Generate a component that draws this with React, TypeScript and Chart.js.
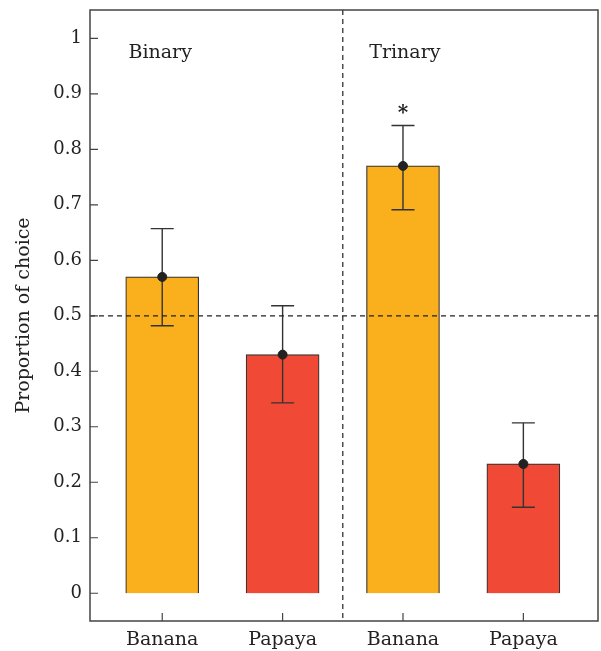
import React, { useEffect, useRef } from "react";
import { Chart, registerables } from "chart.js";

Chart.register(...registerables);

const categories = ["Banana", "Papaya", "Banana", "Papaya"];
const positions = [0, 1, 2, 3];
const proportions = [0.57, 0.43, 0.77, 0.233];
const errLow = [0.482, 0.343, 0.691, 0.155];
const errHigh = [0.657, 0.518, 0.843, 0.307];
const barColors = ["#FAAF1D", "#F04A36", "#FAAF1D", "#F04A36"];
const yTicks = [0, 0.1, 0.2, 0.3, 0.4, 0.5, 0.6, 0.7, 0.8, 0.9, 1];
const yTickLabels = ["0", "0.1", "0.2", "0.3", "0.4", "0.5", "0.6", "0.7", "0.8", "0.9", "1"];
const groupLabels = [
  { text: "Binary", x: -0.28 },
  { text: "Trinary", x: 1.72 },
];
const chanceLevel = 0.5;
const groupDivider = 1.5;
const significant = [false, false, true, false];

const FONT = "'DejaVu Serif', serif";
const INK = "#222";

const overlay = {
  id: "overlay",
  beforeDatasetDraw(chart: any, args: any) {
    if (args.index !== 1) return;
    const { ctx, chartArea } = chart;
    const xs = chart.scales.x;
    const ys = chart.scales.y;
    ctx.save();
    ctx.strokeStyle = "#333";
    ctx.lineWidth = 1.4;
    for (let i = 0; i < positions.length; i++) {
      const px = xs.getPixelForValue(positions[i]);
      const lo = ys.getPixelForValue(errLow[i]);
      const hi = ys.getPixelForValue(errHigh[i]);
      ctx.beginPath();
      ctx.moveTo(px, lo);
      ctx.lineTo(px, hi);
      ctx.moveTo(px - 11.5, lo);
      ctx.lineTo(px + 11.5, lo);
      ctx.moveTo(px - 11.5, hi);
      ctx.lineTo(px + 11.5, hi);
      ctx.stroke();
    }
    ctx.strokeStyle = INK;
    ctx.lineWidth = 1.2;
    ctx.setLineDash([5, 4]);
    const yc = ys.getPixelForValue(chanceLevel);
    ctx.beginPath();
    ctx.moveTo(chartArea.left, yc);
    ctx.lineTo(chartArea.right, yc);
    const xd = xs.getPixelForValue(groupDivider);
    ctx.moveTo(xd, chartArea.top);
    ctx.lineTo(xd, chartArea.bottom);
    ctx.stroke();
    ctx.restore();
  },
  afterDraw(chart: any) {
    const { ctx, chartArea } = chart;
    const xs = chart.scales.x;
    const ys = chart.scales.y;
    ctx.save();
    ctx.strokeStyle = "#444";
    ctx.lineWidth = 1.5;
    ctx.strokeRect(chartArea.left, chartArea.top, chartArea.right - chartArea.left, chartArea.bottom - chartArea.top);
    ctx.lineWidth = 1.2;
    ctx.beginPath();
    for (const v of yTicks) {
      const py = ys.getPixelForValue(v);
      ctx.moveTo(chartArea.left, py);
      ctx.lineTo(chartArea.left + 8, py);
    }
    for (const p of positions) {
      const px = xs.getPixelForValue(p);
      ctx.moveTo(px, chartArea.bottom);
      ctx.lineTo(px, chartArea.bottom - 8);
    }
    ctx.stroke();
    ctx.fillStyle = INK;
    ctx.font = `19px ${FONT}`;
    ctx.textBaseline = "alphabetic";
    ctx.textAlign = "left";
    for (const g of groupLabels) {
      ctx.fillText(g.text, xs.getPixelForValue(g.x), ys.getPixelForValue(0.964));
    }
    ctx.font = `bold 20px ${FONT}`;
    ctx.textAlign = "center";
    for (let i = 0; i < positions.length; i++) {
      if (!significant[i]) continue;
      ctx.fillText("*", xs.getPixelForValue(positions[i]), ys.getPixelForValue(errHigh[i]) - 6);
    }
    ctx.restore();
  },
};

const zeroPad = (s: any) => {
  s.paddingTop = 0;
  s.paddingBottom = 0;
  s.paddingLeft = 0;
  s.paddingRight = 0;
};

export default function App() {
  const ref = useRef<HTMLCanvasElement>(null);
  useEffect(() => {
    if (!ref.current) return;
    const chart = new Chart(ref.current, {
      type: "bar",
      data: {
        datasets: [
          {
            type: "bar",
            data: positions.map((p, i) => ({ x: p, y: proportions[i] })),
            backgroundColor: barColors,
            borderColor: "#333",
            borderWidth: 1.2,
            barThickness: 73,
            order: 2,
          } as any,
          {
            type: "scatter",
            data: positions.map((p, i) => ({ x: p, y: proportions[i] })),
            backgroundColor: INK,
            borderColor: INK,
            pointRadius: 4.5,
            order: 1,
          } as any,
        ],
      },
      options: {
        animation: false,
        responsive: false,
        maintainAspectRatio: false,
        layout: { autoPadding: false, padding: { left: 0, top: 10, right: 3, bottom: 0 } },
        plugins: { legend: { display: false }, tooltip: { enabled: false } },
        scales: {
          x: {
            type: "linear",
            offset: false,
            min: -0.6,
            max: 3.62,
            grid: { display: false, drawTicks: false, offset: false },
            border: { display: false },
            afterBuildTicks: (s: any) => {
              s.ticks = positions.map((v) => ({ value: v }));
            },
            afterFit: (s: any) => {
              s.height = 30;
              zeroPad(s);
            },
            ticks: {
              padding: 8,
              color: INK,
              font: { family: FONT, size: 19 },
              maxRotation: 0,
              autoSkip: false,
              callback: (v: any) => {
                const i = positions.indexOf(Number(v));
                return i >= 0 ? categories[i] : "";
              },
            },
          },
          y: {
            type: "linear",
            min: -0.05,
            max: 1.051,
            grid: { display: false, drawTicks: false },
            border: { display: false },
            afterBuildTicks: (s: any) => {
              s.ticks = yTicks.map((v) => ({ value: v }));
            },
            afterFit: (s: any) => {
              s.width = 90;
              zeroPad(s);
            },
            ticks: {
              padding: 8,
              color: INK,
              font: { family: FONT, size: 18 },
              autoSkip: false,
              callback: (v: any) => {
                const i = yTicks.findIndex((t) => Math.abs(t - Number(v)) < 1e-6);
                return i >= 0 ? yTickLabels[i] : "";
              },
            },
            title: {
              display: true,
              text: "Proportion of choice",
              color: INK,
              font: { family: FONT, size: 19 },
              padding: { top: 13, bottom: 0 },
            },
          },
        },
      },
      plugins: [overlay],
    });
    return () => chart.destroy();
  }, []);
  return (
    <div style={{ position: "absolute", left: 0, top: 0, width: 601, height: 651, background: "#fff" }}>
      <canvas ref={ref} width={601} height={651} style={{ width: 601, height: 651, display: "block" }} />
    </div>
  );
}
